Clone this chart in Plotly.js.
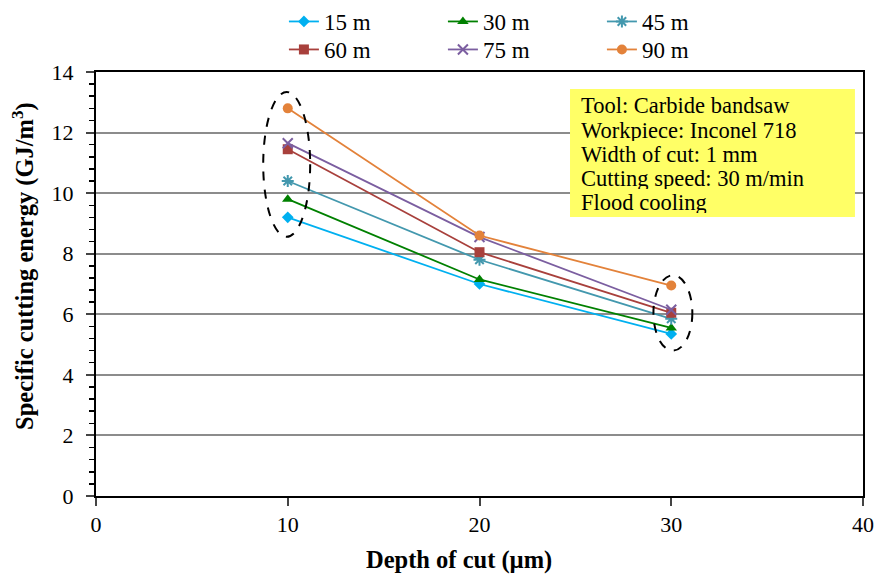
<!DOCTYPE html>
<html><head><meta charset="utf-8">
<script src="https://cdn.plot.ly/plotly-3.0.1.min.js"></script>
<style>body{margin:0;background:#fff}#c{width:884px;height:575px}</style>
</head><body><div id="c"></div>
<script>
const depth = [10, 20, 30];
const seriesNames = ["15 m", "30 m", "45 m", "60 m", "75 m", "90 m"];
const s15 = [9.2, 7.0, 5.35];
const s30 = [9.8, 7.15, 5.55];
const s45 = [10.4, 7.8, 5.85];
const s60 = [11.45, 8.05, 6.05];
const s75 = [11.65, 8.55, 6.15];
const s90 = [12.8, 8.6, 6.95];
const infoLines = ["Tool: Carbide bandsaw", "Workpiece: Inconel 718", "Width of cut: 1 mm", "Cutting speed: 30 m/min", "Flood cooling"];
const xTitle = "<b>Depth of cut (µm)</b>";
const yTitle = "<b>Specific cutting energy (GJ/m<sup>3</sup>)</b>";

const values = [s15, s30, s45, s60, s75, s90];
const colors = ["#00B0F0", "#008000", "#4398AE", "#A8403C", "#7B5EA0", "#E3823A"];
const symbols = ["diamond", "triangle-up", "asterisk-open", "square", "x-thin-open", "circle"];
const sizes = [9, 10, 10, 10, 10, 10];
const font = "Liberation Serif";

const traces = values.map((v, i) => ({
  x: depth, y: v, name: seriesNames[i], type: "scatter", mode: "lines+markers",
  legend: i < 3 ? "legend" : "legend2",
  line: {color: colors[i], width: 1.8},
  marker: {symbol: symbols[i], size: sizes[i], color: colors[i], line: {color: colors[i], width: (symbols[i].indexOf("open") >= 0 ? 2 : 0)}}
}));

const lineStep = 0.8;
const infoAnn = infoLines.map((t, i) => ({
  xref: "x", yref: "y", x: 25.2, y: 12.9 - i * lineStep, xanchor: "left", yanchor: "middle", align: "left",
  height: 22, valign: "middle",
  showarrow: false, text: t, font: {family: font, size: 22.5, color: "#000"}
}));

const W = 884, H = 575;
const titleAnn = [
  {xref: "paper", yref: "paper", x: (459 - 96) / 767, y: (575 - 79 - 560) / 424, xanchor: "center", yanchor: "middle",
    showarrow: false, text: xTitle, font: {family: font, size: 24.5, color: "#000"}},
  {xref: "paper", yref: "paper", x: (23 - 96) / 767, y: (575 - 79 - 266) / 424, xanchor: "center", yanchor: "middle",
    textangle: -90, showarrow: false, text: yTitle, font: {family: font, size: 24.5, color: "#000"}}
];

const legendBase = {orientation: "h", xref: "paper", x: 0.245, xanchor: "left", yref: "container", yanchor: "top",
  entrywidth: 114, entrywidthmode: "pixels", font: {family: font, size: 23}, tracegroupgap: 0, bgcolor: "rgba(0,0,0,0)"};

const layout = {
  width: W, height: H,
  margin: {l: 96, r: 21, t: 72, b: 79},
  paper_bgcolor: "#fff", plot_bgcolor: "#fff",
  font: {family: font, size: 22, color: "#000"},
  showlegend: true,
  legend: Object.assign({}, legendBase, {y: 1}),
  legend2: Object.assign({}, legendBase, {y: 1 - 28 / H}),
  xaxis: {range: [0, 40], dtick: 10, tick0: 0, ticks: "outside", ticklen: 8, tickwidth: 2,
    showline: true, linewidth: 2, linecolor: "#000", mirror: true, showgrid: false, zeroline: false,
    tickfont: {family: font, size: 22}, automargin: false},
  yaxis: {range: [0, 14], dtick: 2, tick0: 0, ticks: "outside", ticklen: 8, tickwidth: 2,
    showline: true, linewidth: 2, linecolor: "#000", mirror: true, ticklabelstandoff: 8,
    showgrid: true, gridcolor: "#8c8c8c", gridwidth: 2, zeroline: false, automargin: false,
    minor: {dtick: 0.4, ticks: "outside", ticklen: 5, tickwidth: 1.5, tickcolor: "#000", showgrid: false},
    tickfont: {family: font, size: 22}},
  shapes: [
    {type: "rect", xref: "x", yref: "y", x0: 24.72, x1: 39.58, y0: 9.21, y1: 13.44,
      fillcolor: "#FFFF66", line: {width: 0}, layer: "above"},
    {type: "circle", xref: "x", yref: "y", x0: 8.72, x1: 11.17, y0: 8.56, y1: 13.34,
      line: {color: "#000", width: 2, dash: "dash"}},
    {type: "circle", xref: "x", yref: "y", x0: 29.07, x1: 31.1, y0: 4.8, y1: 7.29,
      line: {color: "#000", width: 2, dash: "dash"}}
  ],
  annotations: infoAnn.concat(titleAnn)
};
Plotly.newPlot("c", traces, layout, {displayModeBar: false, staticPlot: true});
</script></body></html>
